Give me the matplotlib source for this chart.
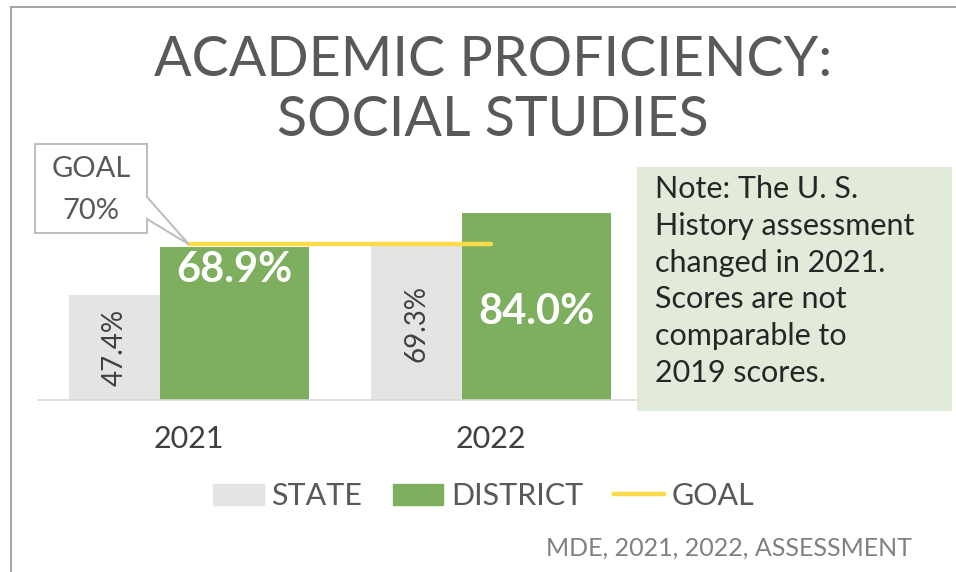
import matplotlib
matplotlib.use("Agg")
import matplotlib.pyplot as plt
from matplotlib.patches import Patch, Polygon, Rectangle
from matplotlib.lines import Line2D

years = ["2021", "2022"]
state = [47.4, 69.3]
district = [68.9, 84.0]
goal = 70
note_text = ("Note: The U. S.\nHistory assessment\nchanged in 2021.\n"
             "Scores are not\ncomparable to\n2019 scores.")
source_text = "MDE, 2021, 2022, ASSESSMENT"

GRAY = "#E4E4E4"
GREEN = "#7EAF5E"
YELLOW = "#FDDB4A"
TXT = "#595959"

plt.rcParams['font.family'] = ['Lato', 'DejaVu Sans']

fig = plt.figure(figsize=(9.56, 5.72), dpi=100)
W, H = 956, 572

# outer frame (left + top)
fig.add_artist(Line2D([10.5 / W, 10.5 / W], [0, 1 - 7 / H], color="#A6A6A6", lw=1.5))
fig.add_artist(Line2D([10.5 / W, 1], [1 - 7 / H, 1 - 7 / H], color="#A6A6A6", lw=1.5))

ax = fig.add_axes([38 / W, 172 / H, 604 / W, 200 / H])
x = list(range(len(years)))
s_left, s_right = -0.397, -0.096
d_left, d_right = -0.096, 0.397
ax.bar([i + (s_left + s_right) / 2 for i in x], state, width=s_right - s_left,
       color=GRAY, label="STATE")
ax.bar([i + (d_left + d_right) / 2 for i in x], district, width=d_right - d_left,
       color=GREEN, label="DISTRICT")
ax.plot(x, [goal] * len(x), color=YELLOW, lw=3.2, solid_capstyle="round", label="GOAL")

ax.set_xlim(-0.5, 1.5)
ax.set_ylim(0, 90)
for sp in ["top", "right", "left"]:
    ax.spines[sp].set_visible(False)
ax.spines["bottom"].set_color("#D9D9D9")
ax.spines["bottom"].set_linewidth(1.2)
ax.set_yticks([])
ax.set_xticks(x)
ax.set_xticklabels(years, fontsize=22, color="#404040")
ax.tick_params(axis="x", length=0, pad=18)

for i, v in enumerate(state):
    ax.text(i + (s_left + s_right) / 2, v / 2, f"{v:.1f}%", rotation=90,
            ha="center", va="center", fontsize=20, color="#404040")
for i, v in enumerate(district):
    ypos = v - 10.3 if i == 0 else v / 2 - 2.4
    ax.text(i + (d_left + d_right) / 2, ypos, f"{v:.1f}%", ha="center", va="center",
            fontsize=30, fontweight="bold", color="white")

# goal callout
gx, gy = ax.transData.transform((0, goal))
gx, gy = gx / W, gy / H
bx0, bx1 = 35 / W, 147 / W
by0, by1 = 1 - 233 / H, 1 - 144 / H
callout = Polygon([(bx0, by0), (bx0, by1), (bx1, by1), (bx1, 1 - 197 / H),
                   (gx, gy), (bx1, 1 - 219 / H), (bx1, by0)],
                  closed=True, transform=fig.transFigure, facecolor="white",
                  edgecolor="#BFBFBF", lw=1.5, zorder=5)
fig.add_artist(callout)
fig.text((bx0 + bx1) / 2, 1 - 190 / H, "GOAL\n70%", ha="center", va="center",
         fontsize=21, color=TXT, linespacing=1.75, zorder=6)

# note box
fig.add_artist(Rectangle((637 / W, 1 - 411 / H), 315 / W, 244 / H,
                         transform=fig.transFigure, facecolor="#E2EBDA",
                         edgecolor="none", zorder=4))
fig.text(655 / W, 1 - 281 / H, note_text, ha="left", va="center", fontsize=22,
         color="#262626", linespacing=1.38, zorder=5)

fig.text(493 / W, 1 - 61 / H, "ACADEMIC PROFICIENCY:", ha="center", va="center",
         fontsize=40, color=TXT)
fig.text(493 / W, 1 - 120 / H, "SOCIAL STUDIES", ha="center", va="center",
         fontsize=40, color=TXT)

handles = [Patch(color=GRAY), Patch(color=GREEN), Line2D([], [], color=YELLOW, lw=3.2)]
fig.legend(handles, ["STATE", "DISTRICT", "GOAL"], loc="center",
           bbox_to_anchor=(484 / W, 1 - 496 / H), ncol=3, frameon=False,
           fontsize=22, labelcolor=TXT, handlelength=1.65, handleheight=0.66,
           handletextpad=0.25, columnspacing=1.0, borderpad=0)

fig.text(912 / W, 1 - 548 / H, source_text, ha="right", va="center", fontsize=18,
         color="#808080")

fig.savefig("out.png", dpi=100)
